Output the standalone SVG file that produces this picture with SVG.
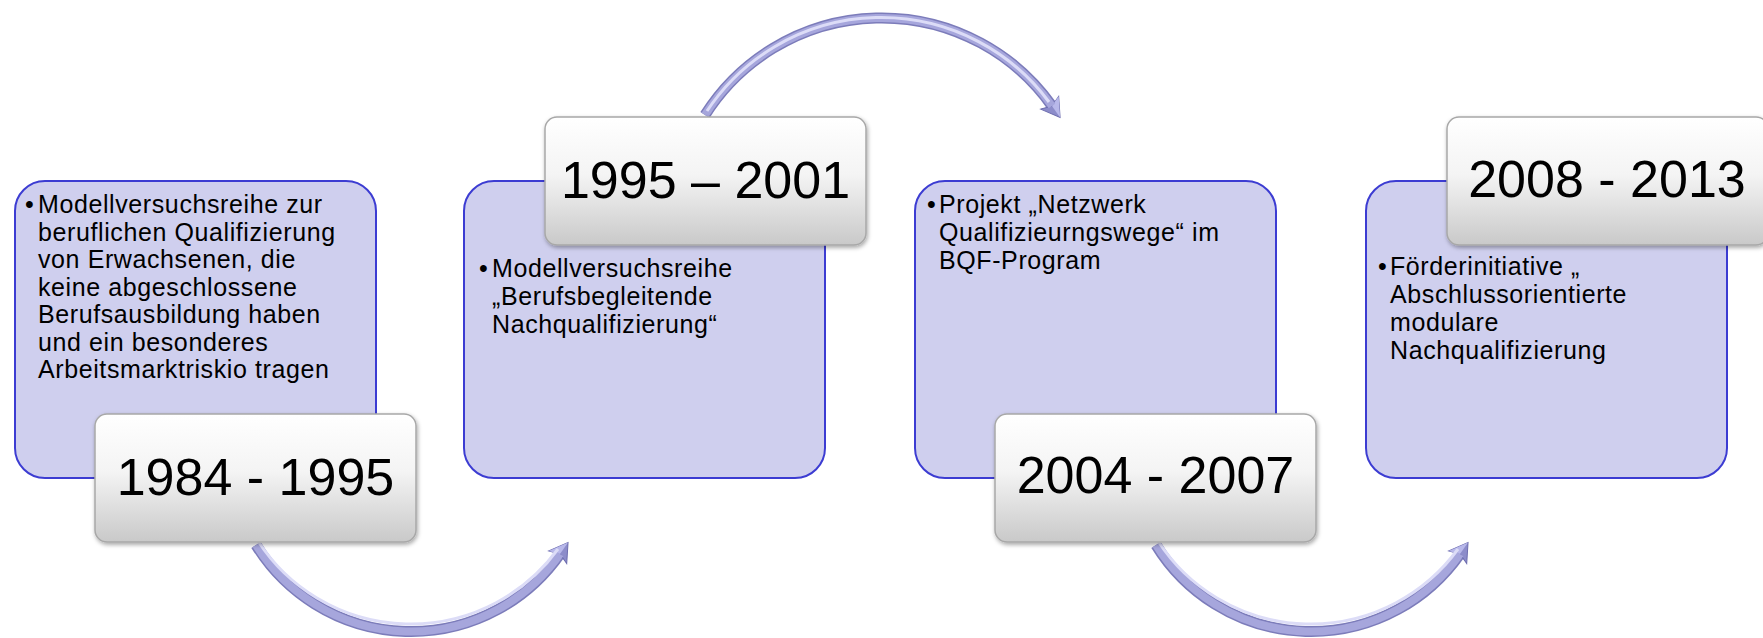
<svg xmlns="http://www.w3.org/2000/svg" width="1763" height="638" viewBox="0 0 1763 638">
<defs>
<linearGradient id="dateGrad" x1="0" y1="0" x2="0" y2="1">
<stop offset="0" stop-color="#ffffff"/>
<stop offset="0.45" stop-color="#f4f4f4"/>
<stop offset="1" stop-color="#c9c9c9"/>
</linearGradient>
<filter id="shadow" x="-10%" y="-10%" width="125%" height="130%">
<feDropShadow dx="1" dy="2" stdDeviation="2" flood-color="#000" flood-opacity="0.35"/>
</filter>
<marker id="head" markerUnits="userSpaceOnUse" markerWidth="30" markerHeight="30" refX="4" refY="0" orient="auto" overflow="visible">
<polygon points="0,-11 18,0 0,11 4,0" fill="#8c8cca" stroke="#6c6cae" stroke-width="1"/>
<polygon points="0,-11 18,0 4,0" fill="#b8b8ea"/>
</marker>
</defs>
<style>
.box{fill:#cfcfee;stroke:#3c3cd2;stroke-width:2}
.date{fill:url(#dateGrad);stroke:#a8a8a8;stroke-width:1.5;filter:url(#shadow)}
.dt{font-family:"Liberation Sans",Arial,sans-serif;font-size:52px;fill:#000;text-anchor:middle}
.bt{font-family:"Liberation Sans",Arial,sans-serif;font-size:25px;fill:#000;letter-spacing:0.6px}
.tube-o{fill:none;stroke:#7c7cba;stroke-width:11}
.tube-m{fill:none;stroke:#a6a6dc;stroke-width:8}
.tube-h{fill:none;stroke:#dcdcf7;stroke-width:3}
</style>
<g id="connectors">
<g id="arrow1">
<path class="tube-o" d="M 256 545 A 182 182 0 0 0 560 554" marker-end="url(#head)"/>
<path class="tube-m" d="M 256 545 A 182 182 0 0 0 560 554"/>
<path class="tube-h" d="M 258 543 A 182 182 0 0 0 558 551" transform="translate(0,-2)"/>
</g>
<g id="arrow2">
<path class="tube-o" d="M 705 115 A 209 209 0 0 1 1052 106" marker-end="url(#head)"/>
<path class="tube-m" d="M 705 115 A 209 209 0 0 1 1052 106"/>
<path class="tube-h" d="M 707 113 A 209 209 0 0 1 1049 104" transform="translate(0,-2)"/>
</g>
<g id="arrow3">
<path class="tube-o" d="M 1156 545 A 182 182 0 0 0 1460 554" marker-end="url(#head)"/>
<path class="tube-m" d="M 1156 545 A 182 182 0 0 0 1460 554"/>
<path class="tube-h" d="M 1158 543 A 182 182 0 0 0 1458 551" transform="translate(0,-2)"/>
</g>
</g>
<g id="step1">
<rect class="box" x="15" y="181" width="361" height="297" rx="30"/>
<text class="bt" x="25" y="213" style="letter-spacing:0">•</text>
<text class="bt" x="38" y="213">Modellversuchsreihe zur</text>
<text class="bt" x="38" y="240.5">beruflichen Qualifizierung</text>
<text class="bt" x="38" y="268">von Erwachsenen, die</text>
<text class="bt" x="38" y="295.5">keine abgeschlossene</text>
<text class="bt" x="38" y="323">Berufsausbildung haben</text>
<text class="bt" x="38" y="350.5">und ein besonderes</text>
<text class="bt" x="38" y="378">Arbeitsmarktriskio tragen</text>
<rect class="date" x="95" y="414" width="321" height="128" rx="12"/>
<text class="dt" x="255.5" y="495">1984 - 1995</text>
</g>
<g id="step2">
<rect class="box" x="464" y="181" width="361" height="297" rx="30"/>
<text class="bt" x="479" y="277" style="letter-spacing:0">•</text>
<text class="bt" x="492" y="277">Modellversuchsreihe</text>
<text class="bt" x="492" y="305">„Berufsbegleitende</text>
<text class="bt" x="492" y="333">Nachqualifizierung“</text>
<rect class="date" x="545" y="117" width="321" height="128" rx="12"/>
<text class="dt" x="705.5" y="198">1995 – 2001</text>
</g>
<g id="step3">
<rect class="box" x="915" y="181" width="361" height="297" rx="30"/>
<text class="bt" x="927" y="213" style="letter-spacing:0">•</text>
<text class="bt" x="939" y="213">Projekt „Netzwerk</text>
<text class="bt" x="939" y="241">Qualifizieurngswege“ im</text>
<text class="bt" x="939" y="269">BQF-Program</text>
<rect class="date" x="995" y="414" width="321" height="128" rx="12"/>
<text class="dt" x="1155.5" y="493">2004 - 2007</text>
</g>
<g id="step4">
<rect class="box" x="1366" y="181" width="361" height="297" rx="30"/>
<text class="bt" x="1378" y="275" style="letter-spacing:0">•</text>
<text class="bt" x="1390" y="275">Förderinitiative „</text>
<text class="bt" x="1390" y="303">Abschlussorientierte</text>
<text class="bt" x="1390" y="331">modulare</text>
<text class="bt" x="1390" y="359">Nachqualifizierung</text>
<rect class="date" x="1447" y="117" width="321" height="128" rx="12"/>
<text class="dt" x="1607" y="197">2008 - 2013</text>
</g>
</svg>
